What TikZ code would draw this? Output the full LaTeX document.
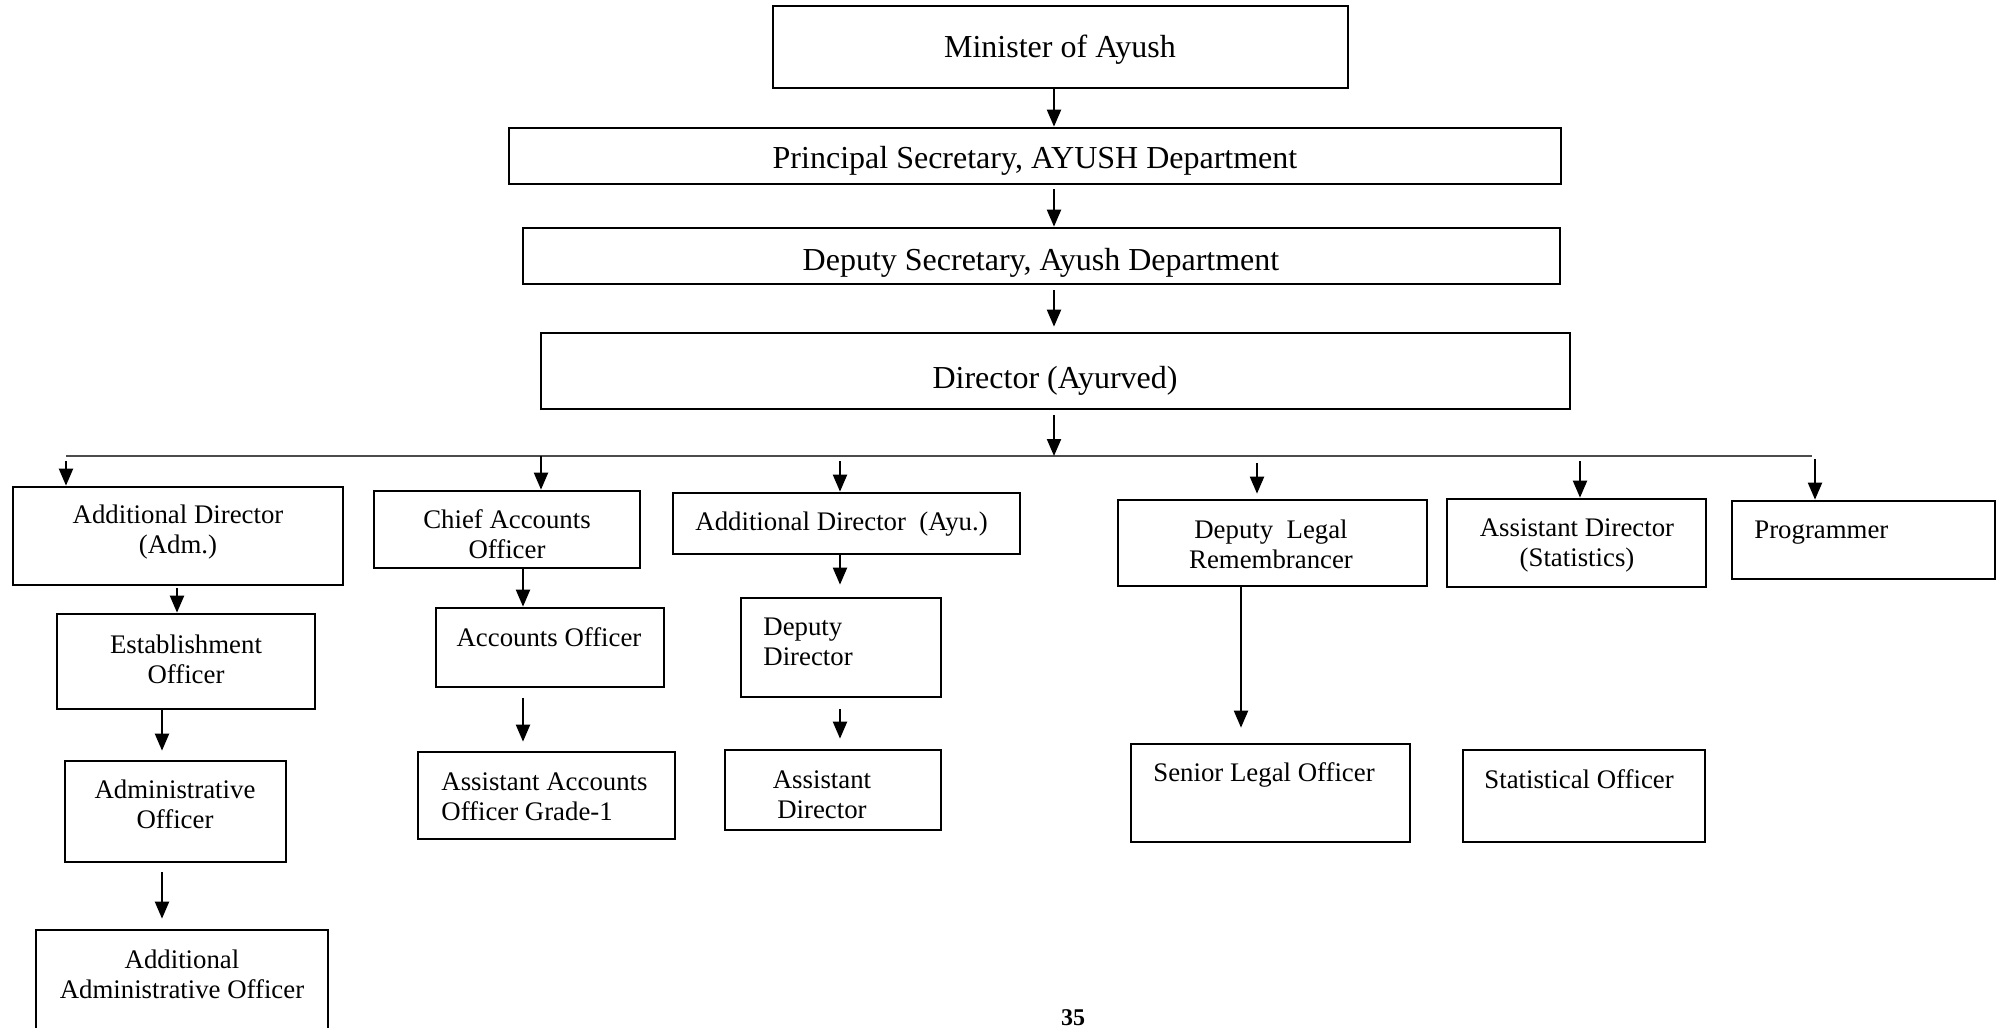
\documentclass[tikz,border=0pt]{standalone}
\usepackage{fontspec}
\setmainfont{Liberation Serif}
\usetikzlibrary{arrows.meta,fit}
\newcommand{\twoc}[2]{\begin{tabular}[t]{@{}c@{}}#1\\#2\end{tabular}}
\newcommand{\twol}[2]{\begin{tabular}[t]{@{}l@{}}#1\\#2\end{tabular}}
\begin{document}
\begin{tikzpicture}[x=0.5pt,y=-0.5pt,
  box/.style={draw, line width=1.35pt, inner sep=0pt},
  big/.style={inner sep=0pt, font=\fontsize{16}{18}\selectfont},
  sml/.style={inner sep=0pt, font=\fontsize{13.4}{15}\selectfont},
  arr/.style={draw, line width=1.05pt, -{Triangle[length=8.5pt,width=7pt]}},
  busline/.style={draw, line width=0.7pt, black!70}]
\useasboundingbox (0,0) rectangle (2003,1028);
\clip (0,0) rectangle (2003,1028);
\fill[white] (0,0) rectangle (2003,1028);

% boxes
\node[box, fit={(773,6) (1348,88)}] (min) {};
\node[box, fit={(509,128) (1561,184)}] (ps) {};
\node[box, fit={(523,228) (1560,284)}] (ds) {};
\node[box, fit={(541,333) (1570,409)}] (dir) {};
\node[box, fit={(13,487) (343,585)}] (adm) {};
\node[box, fit={(374,491) (640,568)}] (cao) {};
\node[box, fit={(673,493) (1020,554)}] (ayu) {};
\node[box, fit={(1118,500) (1427,586)}] (dlr) {};
\node[box, fit={(1447,499) (1706,587)}] (ads) {};
\node[box, fit={(1732,501) (1995,579)}] (prog) {};
\node[box, fit={(57,614) (315,709)}] (est) {};
\node[box, fit={(436,608) (664,687)}] (ao) {};
\node[box, fit={(741,598) (941,697)}] (dd) {};
\node[box, fit={(65,761) (286,862)}] (admo) {};
\node[box, fit={(418,752) (675,839)}] (aao) {};
\node[box, fit={(725,750) (941,830)}] (asd) {};
\node[box, fit={(1131,744) (1410,842)}] (slo) {};
\node[box, fit={(1463,750) (1705,842)}] (sto) {};
\node[box, fit={(36,930) (328,1080)}] (aadm) {};

% texts
\node[big, anchor=base] (min-t) at (1060,57) {Minister of Ayush};
\node[big, anchor=base] (ps-t) at (1035,168) {Principal Secretary, AYUSH Department};
\node[big, anchor=base] (ds-t) at (1041,270) {Deputy Secretary, Ayush Department};
\node[big, anchor=base] (dir-t) at (1055,388) {Director (Ayurved)};
\node[sml, anchor=base] (adm-t) at (178,523) {\twoc{Additional Director}{(Adm.)}};
\node[sml, anchor=base] (cao-t) at (507,528) {\twoc{Chief Accounts}{Officer}};
\node[sml, anchor=base west] (ayu-t) at (695,530) {Additional Director\ \ (Ayu.)};
\node[sml, anchor=base] (dlr-t) at (1271,538) {\twoc{Deputy\ \ Legal}{Remembrancer}};
\node[sml, anchor=base] (ads-t) at (1577,536) {\twoc{Assistant Director}{(Statistics)}};
\node[sml, anchor=base west] (prog-t) at (1754,538) {Programmer};
\node[sml, anchor=base] (est-t) at (186,653) {\twoc{Establishment}{Officer}};
\node[sml, anchor=base] (ao-t) at (549,646) {Accounts Officer};
\node[sml, anchor=base west] (dd-t) at (763,635) {\twol{Deputy}{Director}};
\node[sml, anchor=base] (admo-t) at (175,798) {\twoc{Administrative}{Officer}};
\node[sml, anchor=base west] (aao-t) at (441,790) {\twol{Assistant Accounts}{Officer Grade-1}};
\node[sml, anchor=base] (asd-t) at (822,788) {\twoc{Assistant}{Director}};
\node[sml, anchor=base west] (slo-t) at (1153,781) {Senior Legal Officer};
\node[sml, anchor=base west] (sto-t) at (1484,788) {Statistical Officer};
\node[sml, anchor=base] (aadm-t) at (182,968) {\twoc{Additional}{Administrative Officer}};
\node[inner sep=0pt, font=\fontsize{12}{14}\selectfont\bfseries, anchor=base] (page) at (1073,1025) {35};

% coordinates
\coordinate (tx) at (1054,0);
\coordinate (busL) at (66,456);
\coordinate (busR) at (1812,456);
\coordinate (c2) at (541,456);
\coordinate (c3) at (840,456);
\coordinate (c4) at (1257,456);
\coordinate (c5) at (1580,456);
\coordinate (c6) at (1815,456);
\coordinate (cA) at (177,0);
\coordinate (cB) at (162,0);
\coordinate (cC) at (523,0);
\coordinate (cE) at (1241,0);

% connectors
\draw[arr] (min.south -| tx) -- (ps.north -| tx);
\draw[arr, shorten <=2pt] (ps.south -| tx) -- (ds.north -| tx);
\draw[arr, shorten <=2.5pt, shorten >=2.5pt] (ds.south -| tx) -- (dir.north -| tx);
\draw[busline] (busL) -- (busR);
\draw[arr, shorten <=2.5pt] (dir.south -| tx) -- (busL -| tx);
\draw[arr, shorten <=2.5pt] (busL) -- (adm.north -| busL);
\draw[arr] (c2) -- (cao.north -| c2);
\draw[arr, shorten <=2.5pt] (c3) -- (ayu.north -| c3);
\draw[arr, shorten <=3.5pt, shorten >=2.5pt] (c4) -- (dlr.north -| c4);
\draw[arr, shorten <=2.5pt] (c5) -- (ads.north -| c5);
\draw[arr, shorten <=1.5pt] (c6) -- (prog.north -| c6);
\draw[arr, shorten <=1pt] (adm.south -| cA) -- (est.north -| cA);
\draw[arr] (cao.south -| cC) -- (ao.north -| cC);
\draw[arr, shorten >=6pt] (ayu.south -| c3) -- (dd.north -| c3);
\draw[arr, shorten >=7.5pt] (dlr.south -| cE) -- (slo.north -| cE);
\draw[arr, shorten >=4.5pt] (est.south -| cB) -- (admo.north -| cB);
\draw[arr, shorten <=5pt, shorten >=4.5pt] (ao.south -| cC) -- (aao.north -| cC);
\draw[arr, shorten <=5.5pt, shorten >=5pt] (dd.south -| c3) -- (asd.north -| c3);
\draw[arr, shorten <=4.5pt, shorten >=5pt] (admo.south -| cB) -- (aadm.north -| cB);
\end{tikzpicture}
\end{document}
